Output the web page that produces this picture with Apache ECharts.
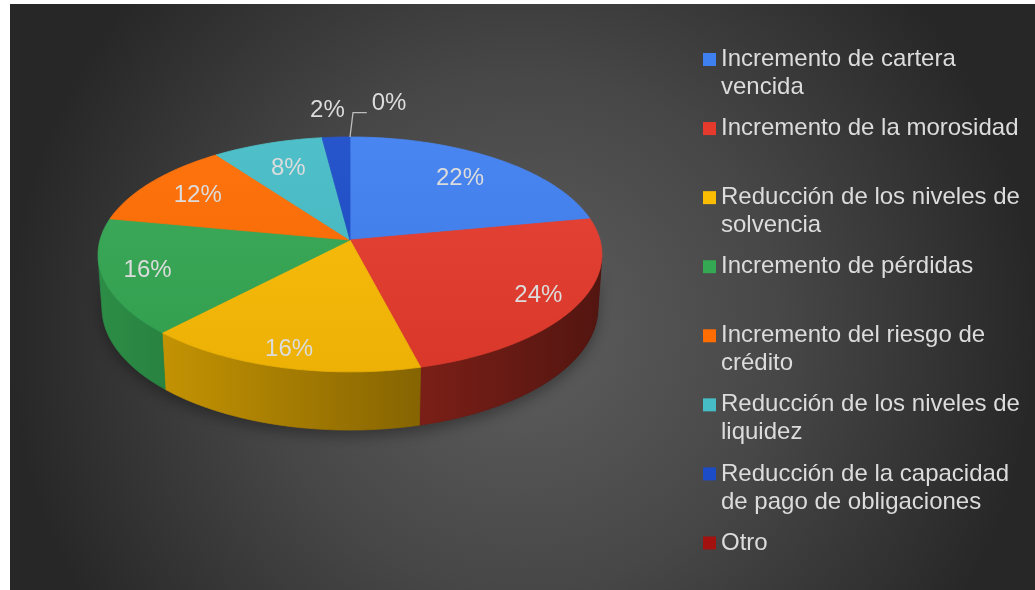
<!DOCTYPE html>
<html>
<head>
<meta charset="utf-8">
<script src="https://cdn.jsdelivr.net/npm/echarts@6/dist/echarts.min.js"></script>
<style>
  html, body { margin: 0; padding: 0; background: #ffffff; }
  #chart { position: absolute; left: 10px; top: 4px; width: 1025px; height: 586px; }
</style>
</head>
<body>
<div id="chart"></div>
<script>
// ---- data ----
const categories = [
  'Incremento de cartera vencida',
  'Incremento de la morosidad',
  'Reducción de los niveles de solvencia',
  'Incremento de pérdidas',
  'Incremento del riesgo de crédito',
  'Reducción de los niveles de liquidez',
  'Reducción de la capacidad de pago de obligaciones',
  'Otro'
];
const shares = [22, 24, 16, 16, 12, 8, 2, 0];

// ---- styles ----
const palette = ['#3F80F0', '#E63B2C', '#FBBC04', '#34A853', '#FF6D01', '#46BDC6', '#1C4CC8', '#A3120F'];
const FONT = '"Liberation Sans", Arial, sans-serif';
const TEXT_COLOR = '#dcdcdc';

// 3D pie geometry (unit radius disc seen through a perspective camera)
const PIE = { cx: 340, cy: 236, focal: 1804, dist: 7.216, tiltDeg: 27.56, depth: 0.2436 };
const TILT = PIE.tiltDeg * Math.PI / 180;
const SA = Math.sin(TILT), CA = Math.cos(TILT);
const TAU = Math.PI * 2;

function proj(phi, k, h) {
  const x = k * Math.sin(phi), z = k * Math.cos(phi);
  const yc = h * CA + z * SA;
  const zc = PIE.dist + z * CA - h * SA;
  return [PIE.cx + PIE.focal * x / zc, PIE.cy - PIE.focal * yc / zc];
}

// front-facing part of the rim (visible side wall)
const WALL_LIMIT = Math.acos(-1 / (PIE.dist * CA));
const WALL_FROM = WALL_LIMIT, WALL_TO = TAU - WALL_LIMIT;

function hexRgb(hex) {
  const n = parseInt(hex.slice(1), 16);
  return [(n >> 16) & 255, (n >> 8) & 255, n & 255];
}
function shade(hex, f) {
  const c = hexRgb(hex).map(v => Math.max(0, Math.min(255, Math.round(v * f))));
  return 'rgb(' + c.join(',') + ')';
}
function tint(hex, t) {
  const c = hexRgb(hex).map(v => Math.round(v + (255 - v) * t));
  return 'rgb(' + c.join(',') + ')';
}

const measureCtx = document.createElement('canvas').getContext('2d');
function textWidth(str, size) {
  measureCtx.font = size + 'px ' + FONT;
  return measureCtx.measureText(str).width;
}
function wrap(str, size, maxW) {
  const words = str.split(' ');
  const lines = [];
  let cur = '';
  words.forEach(w => {
    const t = cur ? cur + ' ' + w : w;
    if (cur && textWidth(t, size) > maxW) { lines.push(cur); cur = w; }
    else cur = t;
  });
  if (cur) lines.push(cur);
  return lines;
}

const total = shares.reduce((a, b) => a + b, 0);
const starts = [];
shares.reduce((acc, v, i) => { starts[i] = acc; return acc + v; }, 0);

// label placement: inside for large slices, outside (with leader on collision) for small ones
const LABEL_SIZE = 24;
const labelLayout = (function () {
  const out = [];
  let prev = null;
  shares.forEach((v, i) => {
    const a0 = starts[i] / total * TAU;
    const a1 = (starts[i] + v) / total * TAU;
    const mid = (a0 + a1) / 2;
    const text = v + '%';
    const w = textWidth(text, LABEL_SIZE);
    if (v / total >= 0.05) {
      const k = 0.80 - 0.08 * Math.cos(mid);
      const p = proj(mid, k, 0);
      out.push({ x: p[0], y: p[1], align: 'center' });
    } else {
      const p = proj(mid, 1.3, 0);
      let lab = { x: p[0] - 5, y: p[1], align: 'center' };
      let centerX = lab.x;
      if (prev && Math.abs(p[0] - prev.x) < (w + prev.w) / 2 + 4 && Math.abs(p[1] - prev.y) < 24) {
        const rim = proj(mid, 1, 0);
        const left = prev.x + prev.w / 2 + 27;
        const y = prev.y - 7;
        lab = { x: left, y: y, align: 'left',
                leader: [rim, [rim[0] + 3, y + 9], [left - 5, y + 9]] };
        centerX = left + w / 2;
      }
      prev = { x: centerX, y: lab.y, w: w };
      out.push(lab);
    }
  });
  return out;
})();

function arcPoints(a0, a1, k, h) {
  const n = Math.max(2, Math.ceil((a1 - a0) / (Math.PI / 180)));
  const pts = [];
  for (let j = 0; j <= n; j++) pts.push(proj(a0 + (a1 - a0) * j / n, k, h));
  return pts;
}

function renderSlice(params, api) {
  const i = params.seriesIndex;
  const start = api.value(0), val = api.value(1);
  const a0 = start / total * TAU, a1 = (start + val) / total * TAU;
  const base = palette[i];
  const children = [];

  if (val > 0) {
    // side wall
    const lo = Math.max(a0, WALL_FROM), hi = Math.min(a1, WALL_TO);
    if (hi > lo) {
      const top = arcPoints(lo, hi, 1, 0);
      const bottom = arcPoints(lo, hi, 1, -PIE.depth).reverse();
      const poly = top.concat(bottom);
      const wallFill = {
        type: 'linear', x: PIE.cx - 250, y: 0, x2: PIE.cx + 250, y2: 0, global: true,
        colorStops: [{ offset: 0, color: shade(base, 0.84) }, { offset: 1, color: shade(base, 0.36) }]
      };
      children.push({
        type: 'polygon', z2: 0, shape: { points: poly },
        style: { fill: 'rgba(0,0,0,0.6)', shadowBlur: 14, shadowOffsetY: 6, shadowColor: 'rgba(0,0,0,0.55)' }
      });
      children.push({
        type: 'polygon', z2: 1, shape: { points: poly },
        style: { fill: wallFill, stroke: wallFill, lineWidth: 0.8 }
      });
    }
    // top face
    const face = [proj(0, 0, 0)].concat(arcPoints(a0, a1, 1, 0));
    const topFill = {
      type: 'linear', x: 0, y: PIE.cy - 105, x2: 0, y2: PIE.cy + 135, global: true,
      colorStops: [{ offset: 0, color: tint(base, 0.05) }, { offset: 1, color: shade(base, 0.94) }]
    };
    children.push({
      type: 'polygon', z2: 2, shape: { points: face },
      style: { fill: topFill, stroke: topFill, lineWidth: 0.8 }
    });
  }

  const lab = labelLayout[i];
  if (lab.leader) {
    children.push({
      type: 'polyline', z2: 3, shape: { points: lab.leader },
      style: { stroke: '#bdbdbd', lineWidth: 1.3, fill: null }
    });
  }
  children.push({
    type: 'text', z2: 4,
    style: {
      text: val + '%', x: lab.x, y: lab.y, fill: TEXT_COLOR,
      font: LABEL_SIZE + 'px ' + FONT,
      align: lab.align, verticalAlign: 'middle',
      textAlign: lab.align, textVerticalAlign: 'middle'
    }
  });
  return { type: 'group', children: children };
}

const series = categories.map((name, i) => ({
  type: 'custom',
  name: name,
  coordinateSystem: 'none',
  itemStyle: { color: palette[i] },
  data: [[starts[i], shares[i]]],
  renderItem: renderSlice,
  emphasis: { disabled: true }
}));

// legend: one block per category, evenly spaced by first line; the icon sits
// beside the first line (a blank leading line keeps the block centred on it)
const LEG = { left: 693, firstCenter: 54, step: 69.07, size: 24, lineHeight: 28, maxWidth: 306 };
const legend = categories.map((name, i) => {
  const lines = wrap(name, LEG.size, LEG.maxWidth);
  const extra = lines.length - 1;
  const text = '\n'.repeat(extra) + lines.join('\n');
  return {
    data: [{ name: name, icon: 'rect' }],
    orient: 'vertical',
    padding: 0,
    left: LEG.left,
    top: LEG.firstCenter + LEG.step * i - 12.5 - LEG.lineHeight * extra,
    itemWidth: 13, itemHeight: 13,
    formatter: () => text,
    textStyle: {
      color: TEXT_COLOR, fontSize: LEG.size, fontFamily: FONT,
      lineHeight: LEG.lineHeight
    }
  };
});

const chart = echarts.init(document.getElementById('chart'), null, { renderer: 'canvas' });
chart.setOption({
  animation: false,
  backgroundColor: {
    type: 'radial', x: 0.5, y: 0.56, r: 0.88,
    colorStops: [
      { offset: 0, color: '#5e5e5e' },
      { offset: 0.5, color: '#474747' },
      { offset: 1, color: '#272727' }
    ]
  },
  legend: legend,
  series: series
});
</script>
</body>
</html>
